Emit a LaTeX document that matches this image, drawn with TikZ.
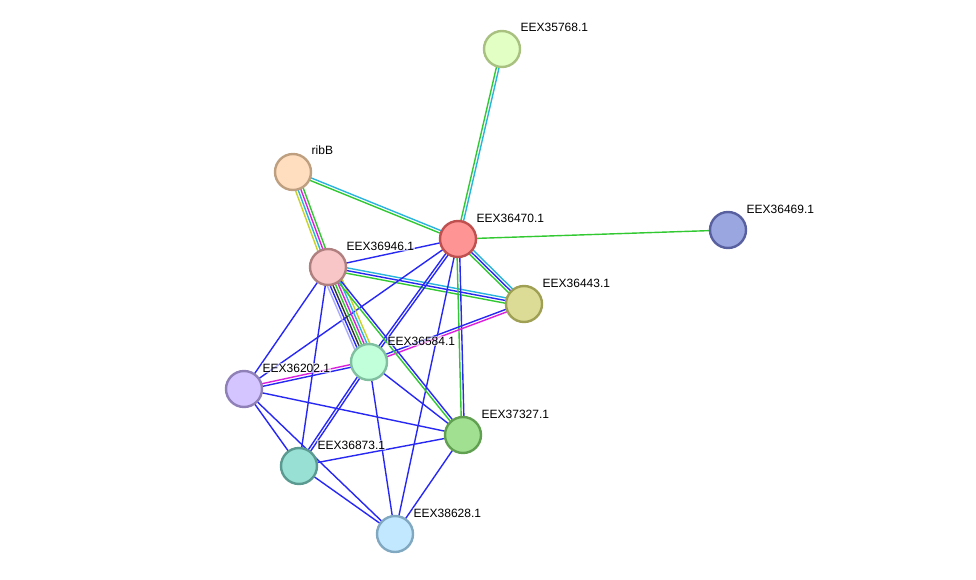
\documentclass[tikz,border=0pt]{standalone}
\usepackage{fontspec}
\setmainfont{Liberation Sans}
\usetikzlibrary{calc}
\pgfdeclarelayer{bg}
\pgfsetlayers{bg,main}
\definecolor{sgreen}{RGB}{50,200,50}
\definecolor{scyan}{RGB}{40,180,220}
\definecolor{sblue}{RGB}{40,40,245}
\definecolor{smagenta}{RGB}{220,30,220}
\definecolor{syellow}{RGB}{200,210,40}
\definecolor{sblack}{RGB}{50,50,50}
\definecolor{slav}{RGB}{170,170,250}
% node colours: border / fill
\definecolor{b35768}{RGB}{168,192,128}\definecolor{f35768}{RGB}{226,255,196}
\definecolor{bribb}{RGB}{190,160,128}\definecolor{fribb}{RGB}{255,222,192}
\definecolor{b36470}{RGB}{192,80,80}\definecolor{f36470}{RGB}{255,148,148}
\definecolor{b36469}{RGB}{88,96,160}\definecolor{f36469}{RGB}{154,166,224}
\definecolor{b36946}{RGB}{176,128,128}\definecolor{f36946}{RGB}{248,198,198}
\definecolor{b36443}{RGB}{160,160,84}\definecolor{f36443}{RGB}{220,220,150}
\definecolor{b36584}{RGB}{128,192,160}\definecolor{f36584}{RGB}{192,255,218}
\definecolor{b36202}{RGB}{144,128,184}\definecolor{f36202}{RGB}{212,196,255}
\definecolor{b37327}{RGB}{96,160,80}\definecolor{f37327}{RGB}{160,224,144}
\definecolor{b36873}{RGB}{90,154,144}\definecolor{f36873}{RGB}{152,224,212}
\definecolor{b38628}{RGB}{128,168,192}\definecolor{f38628}{RGB}{194,232,255}
% parallel coloured links between two nodes
\newcommand\links[3]{%
  \foreach \c [count=\k] in {#3} {\xdef\nlinks{\k}}%
  \foreach \c [count=\i] in {#3} {%
    \pgfmathsetmacro\off{(\i-(\nlinks+1)/2)*2.7}%
    \draw[\c] ($(#1)!\off pt!90:(#2)$) -- ($(#2)!\off pt!-90:(#1)$);
  }}
\begin{document}
\begin{tikzpicture}[x=1pt,y=-1pt,
    prot/.style={circle,draw=b#1,fill=f#1,line width=2.4pt,minimum size=36pt,inner sep=0pt},
    lbl/.style={anchor=base west,font=\fontsize{12}{14}\selectfont,inner sep=1pt,
      fill=white,fill opacity=.6,text opacity=1},
    every path/.append style={line width=1.4pt}]
    \useasboundingbox (0,0) rectangle (976,580);
%    proteins
    \node[prot=35768](e35768) at (502,49)  {};
    \node[prot=ribb] (ribb)   at (293,172) {};
    \node[prot=36470](e36470) at (458,239) {};
    \node[prot=36469](e36469) at (728,230) {};
    \node[prot=36946](e36946) at (328,267) {};
    \node[prot=36443](e36443) at (524,304) {};
    \node[prot=36584](e36584) at (369,362) {};
    \node[prot=36202](e36202) at (244,389) {};
    \node[prot=37327](e37327) at (463,435) {};
    \node[prot=36873](e36873) at (299,466) {};
    \node[prot=38628](e38628) at (395,534) {};

    \node[lbl] at (519,32)  {EEX35768.1};
    \node[lbl] at (310,155) {ribB};
    \node[lbl] at (475,222) {EEX36470.1};
    \node[lbl] at (745,213) {EEX36469.1};
    \node[lbl] at (345,250) {EEX36946.1};
    \node[lbl] at (541,287) {EEX36443.1};
    \node[lbl] at (386,345) {EEX36584.1};
    \node[lbl] at (261,372) {EEX36202.1};
    \node[lbl] at (480,418) {EEX37327.1};
    \node[lbl] at (316,449) {EEX36873.1};
    \node[lbl] at (412,517) {EEX38628.1};

    \begin{pgfonlayer}{bg}
    \links{e35768}{e36470}{sgreen,scyan}
    \links{ribb}{e36470}{sgreen,scyan}
    \links{ribb}{e36946}{syellow,scyan,smagenta,sgreen}
    \links{e36470}{e36469}{sgreen}
    \links{e36946}{e36470}{sblue}
    \links{e36946}{e36443}{sgreen,sblue,scyan}
    \links{e36470}{e36443}{sgreen,sblue,scyan}
    \links{e36470}{e36584}{sblue,sblue}
    \links{e36584}{e36873}{sblue,sblue}
    \links{e36470}{e36202}{sblue}
    \links{e36470}{e37327}{sgreen,sblue}
    \links{e36470}{e38628}{sblue}
    \links{e36584}{e36202}{smagenta,sblue}
    \links{e36584}{e36443}{smagenta,sblue}
    \links{e36946}{e36584}{slav,sblue,sblack,sgreen,smagenta,scyan,syellow}
    \links{e36946}{e36202}{sblue}
    \links{e36946}{e36873}{sblue}
    \links{e36946}{e37327}{sgreen,sblue}
    \links{e36584}{e38628}{sblue}
    \links{e36584}{e37327}{sblue}
    \links{e36202}{e37327}{sblue}
    \links{e36202}{e36873}{sblue}
    \links{e36202}{e38628}{sblue}
    \links{e36873}{e37327}{sblue}
    \links{e36873}{e38628}{sblue}
    \links{e37327}{e38628}{sblue}
    \end{pgfonlayer}
    \end{tikzpicture}
\end{document}
